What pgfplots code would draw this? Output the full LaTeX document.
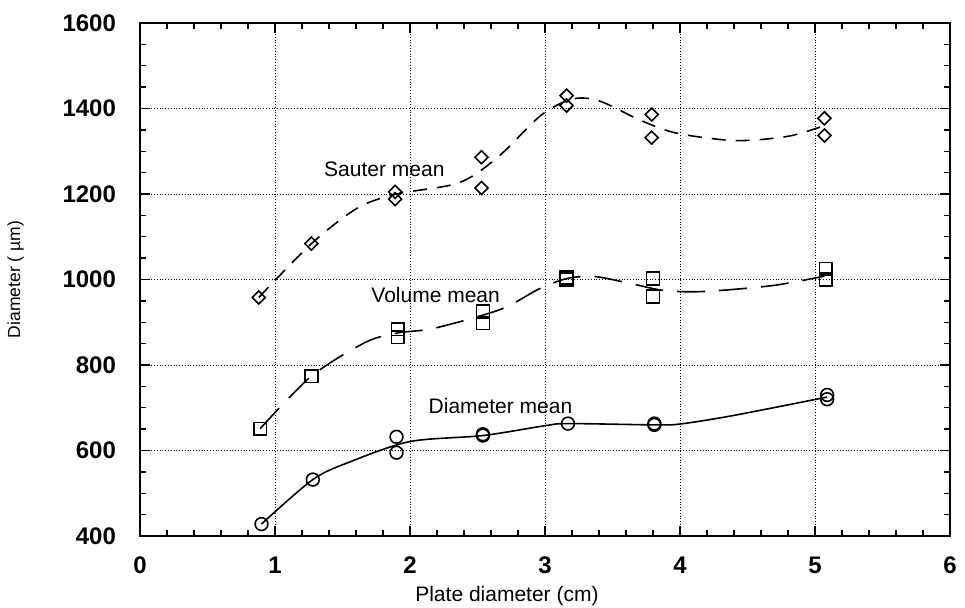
\documentclass[border=0pt]{standalone}
\usepackage{fontspec}
\setmainfont{Liberation Sans}
\usepackage{pgfplots}
\pgfplotsset{compat=1.18}
\usetikzlibrary{calc}
\begin{document}
\begin{tikzpicture}
\begin{axis}[
  scale only axis,
  width=405pt, height=256.5pt,
  xmin=0, xmax=6, ymin=400, ymax=1600,
  xtick={0,1,...,6}, ytick={400,600,...,1600},
  minor x tick num=4, minor y tick num=3,
  tick align=inside, tick pos=both,
  major tick length=5pt, minor tick length=3pt,
  tick style={black, line width=0.7pt},
  grid=major,
  major grid style={black, densely dotted, line width=0.5pt},
  axis line style={line width=1pt},
  ticklabel style={font=\fontsize{12}{14}\selectfont\bfseries},
  xticklabel style={yshift=-7pt},
  yticklabel style={xshift=-8.5pt},
  /pgf/number format/assume math mode=true,
  /pgf/number format/1000 sep={},
  xlabel={Plate diameter (cm)},
  ylabel={Diameter ( µm)},
  xlabel style={font=\fontsize{10.5}{12}\selectfont, at={(ticklabel cs:0.453)}, anchor=near ticklabel, yshift=1pt},
  ylabel style={font=\fontsize{8.75}{10}\selectfont, yshift=12.5pt},
]
\coordinate (ll) at (rel axis cs:0,0);
\coordinate (ur) at (rel axis cs:1,1);
% Sauter mean
\addplot[black, line width=0.8pt, dash pattern=on 7pt off 5pt, smooth, tension=0.5] coordinates {
  (0.88,958) (1.27,1084) (1.61,1167) (1.9,1200) (2.36,1226) (2.65,1286)
  (2.97,1384) (3.2,1422) (3.4,1418) (3.71,1372) (3.98,1342) (4.41,1325)
  (4.8,1335) (5.07,1360)
};
\addplot[only marks, mark=square, mark size=2.3pt, mark options={black, line width=0.8pt, rotate=45}] coordinates {
  (0.88,958) (1.27,1084) (1.89,1205) (1.89,1188) (2.53,1286) (2.53,1214)
  (3.16,1430) (3.16,1407) (3.79,1386) (3.79,1332) (5.07,1377) (5.07,1337)
};
% Volume mean
\addplot[black, line width=0.8pt, dash pattern=on 14pt off 7pt, smooth, tension=0.5] coordinates {
  (0.89,651) (1.27,774) (1.67,853) (1.91,875) (2.18,886) (2.67,930)
  (2.95,977) (3.16,1002) (3.37,1007) (3.67,988) (3.89,974) (4.18,972)
  (4.69,986) (5.07,1008)
};
\addplot[only marks, mark=square, mark size=3.2pt, mark options={black, line width=0.8pt}] coordinates {
  (0.89,651) (1.27,774) (1.91,884) (1.91,865) (2.54,925) (2.54,898)
  (3.16,1005) (3.16,1000) (3.80,1002) (3.80,960) (5.08,1025) (5.08,1000)
};
% Diameter mean
\addplot[black, line width=0.8pt, smooth, tension=0.5] coordinates {
  (0.9,428) (1.28,532) (1.56,574) (2.0,621) (2.54,635) (3.0,658)
  (3.17,663) (3.81,660) (4.0,662) (4.38,681) (5.09,725)
};
\addplot[only marks, mark=o, mark size=3.2pt, mark options={black, line width=0.8pt}] coordinates {
  (0.9,428) (1.28,532) (1.9,632) (1.9,595) (2.54,635) (2.54,638)
  (3.17,663) (3.81,660) (3.81,663) (5.09,730) (5.09,720)
};
\node[font=\fontsize{10.5}{12}\selectfont] at (axis cs:1.81,1258) {Sauter mean};
\node[font=\fontsize{10.5}{12}\selectfont] at (axis cs:2.19,964) {Volume mean};
\node[font=\fontsize{10.5}{12}\selectfont] at (axis cs:2.67,704) {Diameter mean};
\end{axis}
\pgfresetboundingbox
\path[use as bounding box] ($(ll)+(-70pt,-35.5pt)$) rectangle ($(ur)+(7.5pt,11.5pt)$);
\end{tikzpicture}
\end{document}
